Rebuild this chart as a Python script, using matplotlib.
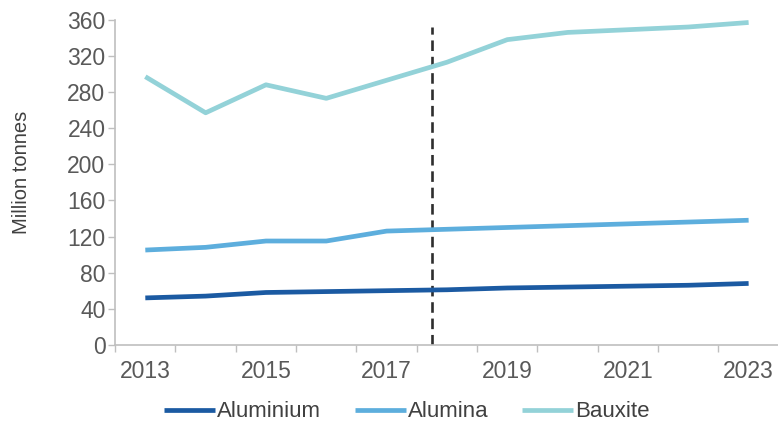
import matplotlib.pyplot as plt
from matplotlib.ticker import FixedLocator, NullFormatter

plt.rcParams['font.family'] = ['Liberation Sans', 'DejaVu Sans']

years = [2013, 2014, 2015, 2016, 2017, 2018, 2019, 2020, 2021, 2022, 2023]
aluminium = [52, 54, 58, 59, 60, 61, 63, 64, 65, 66, 68]
alumina = [105, 108, 115, 115, 126, 128, 130, 132, 134, 136, 138]
bauxite = [297, 257, 288, 273, 293, 313, 338, 346, 349, 352, 357]

# forecast starts here (between 2017 and 2018)
forecast_split = 4.75

fig = plt.figure(figsize=(7.78, 4.30), dpi=100)
ax = fig.add_axes([0.148, 0.198, 0.853, 0.756])

x = list(range(len(years)))
ax.plot(x, aluminium, color='#1B5AA2', lw=3.4, label='Aluminium', solid_capstyle='butt')
ax.plot(x, alumina, color='#5DAEDD', lw=3.4, label='Alumina', solid_capstyle='butt')
ax.plot(x, bauxite, color='#93D2D8', lw=3.4, label='Bauxite', solid_capstyle='butt')
ax.plot([forecast_split, forecast_split], [0, 352], color='#2E2E2E', lw=1.9,
        dashes=(4, 2.2), zorder=1)

ax.set_xlim(-0.5, len(years) - 0.5)
ax.set_ylim(0, 360)
ax.set_yticks(range(0, 361, 40))

# year labels on every other category, tick marks between categories
ax.xaxis.set_major_locator(FixedLocator(x[::2]))
ax.set_xticklabels([str(y) for y in years[::2]])
ax.xaxis.set_minor_locator(FixedLocator([i - 0.5 for i in range(len(years) + 1)]))
ax.xaxis.set_minor_formatter(NullFormatter())
ax.tick_params(axis='x', which='major', length=0, pad=11, labelsize=16.5, labelcolor='#595959')
ax.tick_params(axis='x', which='minor', length=5, width=1, color='#BFBFBF', direction='out')
ax.tick_params(axis='y', length=5, width=1, color='#BFBFBF', pad=2, labelsize=16.5,
               labelcolor='#595959')

for side in ['top', 'right']:
    ax.spines[side].set_visible(False)
for side in ['left', 'bottom']:
    ax.spines[side].set_color('#BFBFBF')
    ax.spines[side].set_linewidth(1.2)

ax.set_ylabel('Million tonnes', fontsize=14.5, color='#404040')
ax.yaxis.set_label_coords(-0.127, 0.53)

fig.legend(loc='center', bbox_to_anchor=(0.523, 0.042), ncol=3, frameon=False,
           fontsize=16, handlelength=2.3, handletextpad=0.1, columnspacing=1.5,
           labelcolor='#404040')

fig.savefig('out.png', dpi=100)
